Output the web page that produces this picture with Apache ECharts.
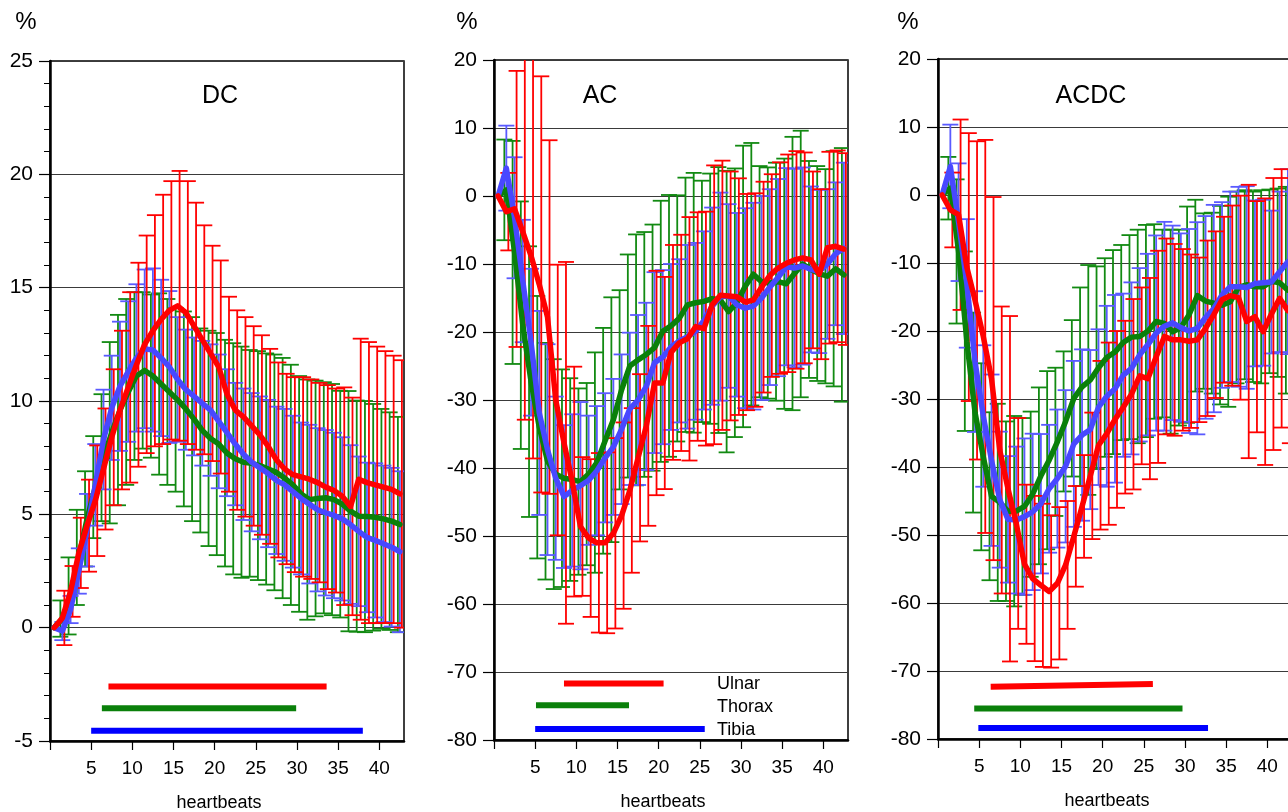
<!DOCTYPE html>
<html>
<head>
<meta charset="utf-8">
<script src="https://cdn.jsdelivr.net/npm/echarts@6/dist/echarts.min.js"></script>
<style>
  html, body { margin: 0; padding: 0; background: #fff; }
  #main { width: 1288px; height: 812px; }
</style>
</head>
<body>
<div id="main"></div>
<script>
// heartbeat positions (centre of each beat)
var beats = [0.5, 1.5, 2.5, 3.5, 4.5, 5.5, 6.5, 7.5, 8.5, 9.5, 10.5, 11.5, 12.5, 13.5, 14.5,
  15.5, 16.5, 17.5, 18.5, 19.5, 20.5, 21.5, 22.5, 23.5, 24.5, 25.5, 26.5, 27.5, 28.5, 29.5,
  30.5, 31.5, 32.5, 33.5, 34.5, 35.5, 36.5, 37.5, 38.5, 39.5, 40.5, 41.5, 42.5];
var xTicks = [0, 5, 10, 15, 20, 25, 30, 35, 40];
var xTickLabels = [5, 10, 15, 20, 25, 30, 35, 40];

// DC panel - mean and SD per beat
var dcUlnarMean = [0, 0.43, 1.6, 3.3, 4.5, 5.6, 7.0, 8.4, 9.6, 10.6, 11.6, 12.5, 13.1, 13.6, 14.0, 14.2, 13.9, 13.3, 12.7, 12.1, 11.5, 10.3, 9.6, 9.3, 8.9, 8.5, 8.0, 7.4, 7.0, 6.75, 6.65, 6.55, 6.4, 6.2, 6.05, 5.8, 5.35, 6.55, 6.4, 6.3, 6.2, 6.1, 5.9];
var dcUlnarSd = [0, 1.2, 1.12, 1.55, 2.03, 2.44, 2.67, 3.0, 3.5, 4.2, 4.5, 4.8, 5.1, 5.5, 5.7, 5.95, 5.8, 5.45, 5.05, 4.75, 4.7, 4.3, 4.4, 4.4, 4.4, 4.4, 4.3, 4.3, 4.2, 4.3, 4.4, 4.4, 4.4, 4.5, 4.5, 4.8, 4.8, 6.2, 6.2, 6.1, 6.0, 5.9, 5.9];
var dcThoraxMean = [0, 0.4, 1.4, 3.1, 4.8, 6.2, 7.5, 8.6, 9.6, 10.4, 11.1, 11.35, 11.1, 10.75, 10.4, 10.05, 9.65, 9.2, 8.7, 8.35, 8.1, 7.7, 7.45, 7.3, 7.25, 7.15, 7.0, 6.85, 6.6, 6.3, 5.9, 5.65, 5.7, 5.73, 5.65, 5.45, 5.14, 4.92, 4.9, 4.87, 4.8, 4.7, 4.55];
var dcThoraxSd = [0, 0.8, 1.7, 2.1, 2.1, 2.25, 2.8, 4.0, 4.2, 4.1, 3.7, 3.45, 3.6, 4.0, 4.1, 4.05, 4.3, 4.5, 4.5, 4.75, 4.9, 5.0, 5.1, 5.1, 5.0, 5.05, 5.1, 5.2, 5.3, 5.3, 5.2, 5.3, 5.2, 5.1, 5.1, 5.0, 5.3, 5.1, 5.1, 5.0, 4.85, 4.8, 4.75];
var dcTibiaMean = [0, -0.15, 0.8, 2.5, 4.3, 6.3, 8.3, 9.7, 10.65, 11.3, 11.9, 12.3, 12.25, 11.9, 11.5, 10.95, 10.5, 10.2, 9.9, 9.6, 9.1, 8.6, 8.1, 7.65, 7.3, 7.05, 6.8, 6.5, 6.3, 6.0, 5.7, 5.45, 5.2, 5.07, 4.95, 4.8, 4.55, 4.25, 3.98, 3.85, 3.7, 3.55, 3.35];
var dcTibiaSd = [0, 0.4, 0.6, 1.0, 1.6, 1.8, 2.2, 2.3, 2.85, 3.1, 3.25, 3.5, 3.6, 3.45, 3.35, 2.75, 2.65, 2.6, 2.75, 2.9, 2.95, 2.8, 2.7, 2.9, 3.05, 3.15, 3.25, 3.25, 3.35, 3.35, 3.35, 3.5, 3.6, 3.65, 3.65, 3.6, 3.5, 3.3, 3.3, 3.4, 3.45, 3.5, 3.55];

// AC panel
var acUlnarMean = [0, -2.3, -1.9, -5.3, -8.8, -13, -17.8, -30, -36.3, -42, -48.6, -50.3, -51, -51, -49.6, -47, -43.3, -38.5, -33.8, -27.5, -27.5, -23, -21.6, -21, -19.2, -19.5, -16, -14.6, -14.7, -14.8, -15.6, -15.3, -13.4, -11.7, -10.6, -9.9, -9.4, -9.1, -9.4, -11.5, -7.6, -7.4, -7.8];
var acUlnarSd = [0, 5.7, 20.3, 27.6, 29.8, 30.6, 26, 19.9, 26.6, 16.9, 10.2, 11.6, 13.2, 13.3, 14, 13.7, 12.1, 12.3, 14.7, 16.5, 15.6, 15.8, 15.9, 17.9, 16.8, 17.2, 20.5, 19.8, 18.3, 17.4, 15.9, 15.7, 15.5, 14.9, 15.55, 16, 16, 15.5, 13, 12.5, 14.1, 14.1, 14.1];
var acThoraxMean = [0, 0.9, -8.3, -19, -27.3, -34, -39, -40.9, -41.5, -41.7, -42, -40.9, -39.2, -36, -32.9, -28.5, -25, -24.1, -23.3, -22.3, -19.9, -19.1, -18, -16, -15.7, -15.5, -15.1, -15.3, -17, -15.7, -13.3, -11.5, -12.6, -12.8, -12.6, -12.9, -11.4, -10, -10.8, -11.4, -11.8, -10.7, -11.6];
var acThoraxSd = [0, 7.4, 16.4, 18.2, 19.9, 19.3, 17.4, 16.9, 16, 14.9, 13.7, 13.4, 16.2, 16.6, 18, 14.65, 16.4, 18.45, 18, 18.1, 19.2, 19.25, 18.1, 18.7, 19.1, 17.75, 18.4, 19.55, 20.7, 19.75, 20.7, 19.3, 17, 17, 17.5, 18.4, 20.1, 19.6, 15.95, 15.8, 15.75, 17.3, 18.65];
var acTibiaMean = [0, 4.1, -3.2, -12.5, -21.5, -31.9, -37.3, -41.5, -44.2, -43.3, -42.6, -41.8, -40.4, -38.5, -36.9, -34.3, -31.3, -30, -28, -24.5, -23.7, -22.2, -21.3, -20.7, -19.9, -18.3, -16.2, -14.8, -14.7, -16, -16.5, -16.2, -15, -13.4, -12, -10.4, -10.6, -10.3, -10.8, -11.1, -10, -8.5, -7.7];
var acTibiaSd = [0, 6.25, 8.9, 9.0, 10.8, 15, 15.5, 12, 10.5, 11.2, 12.3, 9.5, 9.5, 9.5, 10, 11, 11.2, 12.5, 12.3, 13.3, 12.8, 12.2, 12, 13.5, 13, 13.1, 14.5, 15.3, 13.5, 13.5, 14.7, 15.2, 15, 14.4, 14.5, 14.5, 14.6, 14.5, 12.2, 12, 11, 10.5, 12.6];

// ACDC panel
var acdcUlnarMean = [0, -2.2, -2.9, -10.6, -15.5, -20.8, -27, -37.5, -43.2, -48.3, -54.3, -56.4, -57.4, -58.3, -57.1, -54.4, -50.2, -45.8, -41.3, -36.8, -35.1, -33, -31.2, -29.3, -26.6, -27, -23.8, -20.8, -21.3, -21.3, -21.5, -21.3, -19.6, -17.6, -15.4, -14.8, -15.1, -18.6, -17.9, -20.1, -17.5, -15.2, -17];
var acdcUlnarSd = [0, 5.5, 14, 19.7, 23.4, 28.9, 26.7, 21.1, 25.4, 15.5, 11.7, 12.15, 12, 11.2, 11.2, 9.4, 7.4, 7.55, 9.3, 12.4, 13.4, 13, 12.7, 14, 13, 14.8, 15.6, 14.4, 14.1, 13.35, 12.75, 12.1, 12.9, 12.25, 12.2, 13.25, 15, 20.1, 17, 19.6, 20, 19, 19.5];
var acdcThoraxMean = [0, 1.0, -8.3, -21.5, -32, -38.5, -44.3, -45.2, -46.5, -46.5, -45.8, -44, -41.3, -39, -36.3, -33.3, -29.9, -28.2, -27.2, -25.4, -23.9, -23.1, -21.7, -20.9, -20.8, -20, -18.6, -18.9, -20.1, -19.5, -17.6, -14.8, -15.6, -15.9, -16.2, -15.7, -13.6, -13.2, -13.5, -13.5, -12.7, -12.9, -14];
var acdcThoraxSd = [0, 4.6, 10.6, 13.2, 14.7, 13.75, 12.35, 14.5, 13.2, 14, 13, 12.15, 13, 13.1, 10.9, 10.3, 11.5, 14.6, 16.9, 14.9, 14.6, 15, 14.35, 15, 15.7, 15.6, 14.3, 13.8, 15, 14.4, 15.9, 14.1, 12.9, 13.3, 14.6, 15.45, 14.1, 13.9, 14, 14.2, 13.5, 13.85, 15.2];
var acdcTibiaMean = [0, 4.2, -4, -13, -24.5, -32.5, -39, -44.8, -47.7, -47.8, -47.3, -46.6, -45.4, -43.2, -41.7, -39.9, -36.6, -35.3, -34.5, -31.2, -29.6, -28.5, -26.5, -25.5, -23.5, -22, -20.3, -19.3, -18.8, -19.5, -20, -19.6, -18, -16.7, -14.7, -13.5, -13.5, -13.6, -13, -12.9, -12.8, -11.3, -9.8];
var acdcTibiaSd = [0, 6.15, 8.65, 9.45, 10.35, 10.4, 12.6, 10, 9.3, 10.8, 11.5, 11.5, 10.25, 9.4, 10.15, 11.2, 12.2, 12.6, 11.7, 11.45, 13.3, 13.8, 12, 12.65, 12.75, 13.35, 14.35, 15.35, 14.3, 13.85, 15, 15.6, 14.9, 15.25, 13.65, 14, 14.7, 14.9, 12.2, 12.2, 10.5, 11.8, 13.6];

// significance bars: [xStart, yStart, xEnd, yEnd]
var dcSigUlnar = [7.1, -2.6, 33.6, -2.6];
var dcSigThorax = [6.3, -3.55, 29.9, -3.55];
var dcSigTibia = [5.0, -4.55, 38.0, -4.55];
var acSigUlnar = [8.5, -71.7, 20.6, -71.7];
var acSigThorax = [5.1, -74.9, 16.4, -74.9];
var acSigTibia = [5.0, -78.4, 25.6, -78.4];
var acdcSigUlnar = [6.4, -72.3, 26.1, -71.9];
var acdcSigThorax = [4.4, -75.5, 29.7, -75.5];
var acdcSigTibia = [4.9, -78.4, 32.8, -78.4];

var FONT = 'Liberation Sans, Arial, Helvetica, sans-serif';
var RED = '#ff0000', GREEN = '#0a800a', BLUE = '#4848ff';

var panels = [
  { title: 'DC', titleX: 220, pctX: 26, left: 50, top: 61, ymin: -5, ymax: 25, step: 5, minor: true,
    ulnar: [dcUlnarMean, dcUlnarSd], thorax: [dcThoraxMean, dcThoraxSd], tibia: [dcTibiaMean, dcTibiaSd],
    sig: [dcSigUlnar, dcSigThorax, dcSigTibia] },
  { title: 'AC', titleX: 600, pctX: 467, left: 494, top: 60, ymin: -80, ymax: 20, step: 10, minor: false,
    ulnar: [acUlnarMean, acUlnarSd], thorax: [acThoraxMean, acThoraxSd], tibia: [acTibiaMean, acTibiaSd],
    sig: [acSigUlnar, acSigThorax, acSigTibia] },
  { title: 'ACDC', titleX: 1091, pctX: 908, left: 938, top: 59, ymin: -80, ymax: 20, step: 10, minor: false,
    ulnar: [acdcUlnarMean, acdcUlnarSd], thorax: [acdcThoraxMean, acdcThoraxSd], tibia: [acdcTibiaMean, acdcTibiaSd],
    sig: [acdcSigUlnar, acdcSigThorax, acdcSigTibia] }
];

// error bars drawn as custom series
function errorBars(idx, mean, sd, color, dx) {
  return {
    type: 'custom', xAxisIndex: idx, yAxisIndex: idx, clip: true, silent: true, z: 2,
    encode: { x: 0, y: 1 },
    data: beats.map(function (b, i) { return [b, mean[i], sd[i]]; }),
    renderItem: function (params, api) {
      var s = api.value(2);
      if (!s) return null;
      var x = api.value(0), m = api.value(1);
      var hi = api.coord([x, m + s]);
      var lo = api.coord([x, m - s]);
      var px = hi[0] + dx, w = 8;
      var st = { stroke: color, lineWidth: 1.8 };
      return {
        type: 'group',
        children: [
          { type: 'line', shape: { x1: px, y1: hi[1], x2: px, y2: lo[1] }, style: st },
          { type: 'line', shape: { x1: px - w, y1: hi[1], x2: px + w, y2: hi[1] }, style: st },
          { type: 'line', shape: { x1: px - w, y1: lo[1], x2: px + w, y2: lo[1] }, style: st }
        ]
      };
    }
  };
}

function meanLine(idx, mean, color) {
  return {
    type: 'line', xAxisIndex: idx, yAxisIndex: idx, symbol: 'none', silent: true, z: 3,
    data: beats.map(function (b, i) { return [b, mean[i]]; }),
    lineStyle: { color: color, width: 5.5, cap: 'round', join: 'round' }
  };
}

function sigBar(idx, s, color) {
  return {
    type: 'line', xAxisIndex: idx, yAxisIndex: idx, symbol: 'none', silent: true, z: 3,
    data: [[s[0], s[1]], [s[2], s[3]]],
    lineStyle: { color: color, width: 6, cap: 'butt' }
  };
}

var grids = [], xAxes = [], yAxes = [], series = [], titles = [];
panels.forEach(function (p, i) {
  grids.push({ left: p.left, top: p.top, width: 354, height: 680, show: true,
    outerBoundsMode: 'none', containLabel: false,
    borderColor: '#000', borderWidth: 1.5 });
  xAxes.push({
    gridIndex: i, type: 'value', min: 0, max: 43, interval: 5,
    axisLine: { show: true, onZero: false, lineStyle: { color: '#000', width: 2.5 } },
    axisTick: { show: true, length: 9, customValues: xTicks, lineStyle: { color: '#000', width: 1.2 } },
    axisLabel: { customValues: xTickLabels, fontSize: 19, color: '#000', margin: 18, fontFamily: FONT },
    splitLine: { show: false },
    name: 'heartbeats', nameLocation: 'middle', nameGap: 53,
    nameTextStyle: { fontSize: 18, color: '#000', fontFamily: FONT, padding: [0, 16, 0, 0] }
  });
  yAxes.push({
    gridIndex: i, type: 'value', min: p.ymin, max: p.ymax, interval: p.step,
    axisLine: { show: true, lineStyle: { color: '#000', width: 2.5 } },
    axisTick: { show: true, length: 11, lineStyle: { color: '#000', width: 1.2 } },
    minorTick: { show: p.minor, splitNumber: 5, length: 6, lineStyle: { color: '#000', width: 1 } },
    axisLabel: { fontSize: 21, color: '#000', margin: 17, fontFamily: FONT },
    splitLine: { show: true, lineStyle: { color: '#3a3a3a', width: 1 } }
  });
  series.push(errorBars(i, p.thorax[0], p.thorax[1], '#128a12', -2));
  series.push(errorBars(i, p.tibia[0], p.tibia[1], '#5a5aff', 0));
  series.push(errorBars(i, p.ulnar[0], p.ulnar[1], RED, 2));
  series.push(meanLine(i, p.thorax[0], GREEN));
  series.push(meanLine(i, p.tibia[0], BLUE));
  series.push(meanLine(i, p.ulnar[0], RED));
  series.push(sigBar(i, p.sig[0], RED));
  series.push(sigBar(i, p.sig[1], '#0a800a'));
  series.push(sigBar(i, p.sig[2], '#0000ff'));
  titles.push({ text: p.title, left: p.titleX, top: 84, textAlign: 'center', padding: 0,
    textStyle: { fontSize: 25, fontWeight: 'normal', color: '#000', fontFamily: FONT } });
  titles.push({ text: '%', left: p.pctX, top: 10, textAlign: 'center', padding: 0,
    textStyle: { fontSize: 24, fontWeight: 'normal', color: '#000', fontFamily: FONT } });
});

var chart = echarts.init(document.getElementById('main'));
chart.setOption({
  animation: false,
  backgroundColor: '#fff',
  title: titles,
  grid: grids,
  xAxis: xAxes,
  yAxis: yAxes,
  series: series,
  graphic: [
    { type: 'text', x: 717, y: 684, style: { text: 'Ulnar', font: '18px ' + FONT, fill: '#000', verticalAlign: 'middle' } },
    { type: 'text', x: 717, y: 707, style: { text: 'Thorax', font: '18px ' + FONT, fill: '#000', verticalAlign: 'middle' } },
    { type: 'text', x: 717, y: 730, style: { text: 'Tibia', font: '18px ' + FONT, fill: '#000', verticalAlign: 'middle' } }
  ]
});
</script>
</body>
</html>
